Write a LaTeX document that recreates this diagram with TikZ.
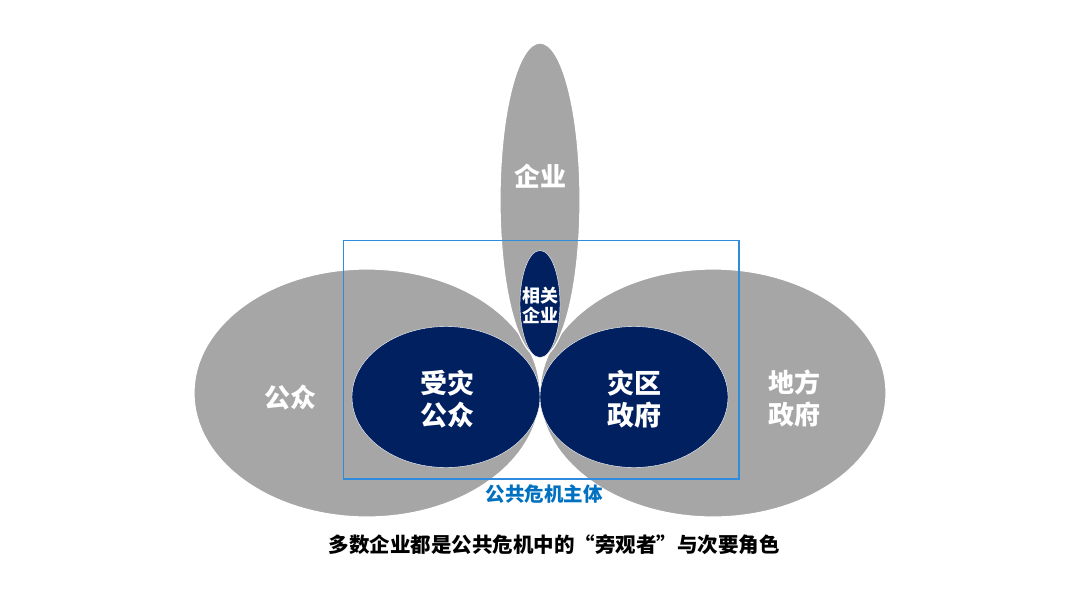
\documentclass[tikz,border=0pt]{standalone}
\usepackage{fontspec}
\setmainfont{Noto Sans CJK SC}
\usetikzlibrary{shapes.geometric}
\definecolor{ggray}{HTML}{A6A6A6}
\definecolor{dblue}{HTML}{002060}
\definecolor{lblue}{HTML}{0070C0}
\definecolor{rblue}{HTML}{2F8BDB}
\tikzset{
  grayell/.style={ellipse, fill=ggray, draw=white, line width=1.2pt, inner sep=0pt},
  blueell/.style={ellipse, fill=dblue, draw=white, line width=0.4pt, inner sep=0pt},
  lbl/.style={text=white, font=\bfseries\fontsize{26}{32}\selectfont, align=center},
  smalllbl/.style={text=white, font=\bfseries\fontsize{18}{20}\selectfont, align=center},
}
\begin{document}
\begin{tikzpicture}[x=1pt,y=-1pt]
\useasboundingbox (0,0) rectangle (1080,608);
% large gray ellipses
\node[grayell, minimum width=346pt, minimum height=248pt] (pub) at (367,393) {};
\node[grayell, minimum width=346pt, minimum height=248pt] (gov) at (713,393) {};
\node[grayell, minimum width=80pt, minimum height=314pt] (ent) at (540,200) {};
% dark blue ellipses
\node[blueell, minimum width=188pt, minimum height=141pt] (vpub) at (446,397) {};
\node[blueell, minimum width=188pt, minimum height=141pt] (vgov) at (634,397) {};
\node[blueell, minimum width=40pt, minimum height=107pt] (rent) at (540,304) {};
% labels
\node[lbl] (tpub) at (290,398) {公众};
\node[lbl] (tgov) at (794,398) {地方\\政府};
\node[lbl] (tent) at (540,176) {企业};
\node[lbl, font=\bfseries\fontsize{27}{32}\selectfont] (tvpub) at (447,399) {受灾\\公众};
\node[lbl, font=\bfseries\fontsize{27}{32}\selectfont] (tvgov) at (634,399) {灾区\\政府};
\node[smalllbl] (trent) at (540,305) {相关\\企业};
% rectangle
\draw[rblue, line width=1.1pt] (343.5,240.5) rectangle (739,479);
\node[text=lblue, font=\bfseries\fontsize{19.5}{22}\selectfont] (main) at (544,494) {公共危机主体};
\node[text=black, font=\bfseries\fontsize{20.5}{24}\selectfont] (cap) at (554,545) {多数企业都是公共危机中的“旁观者”与次要角色};
\end{tikzpicture}
\end{document}
